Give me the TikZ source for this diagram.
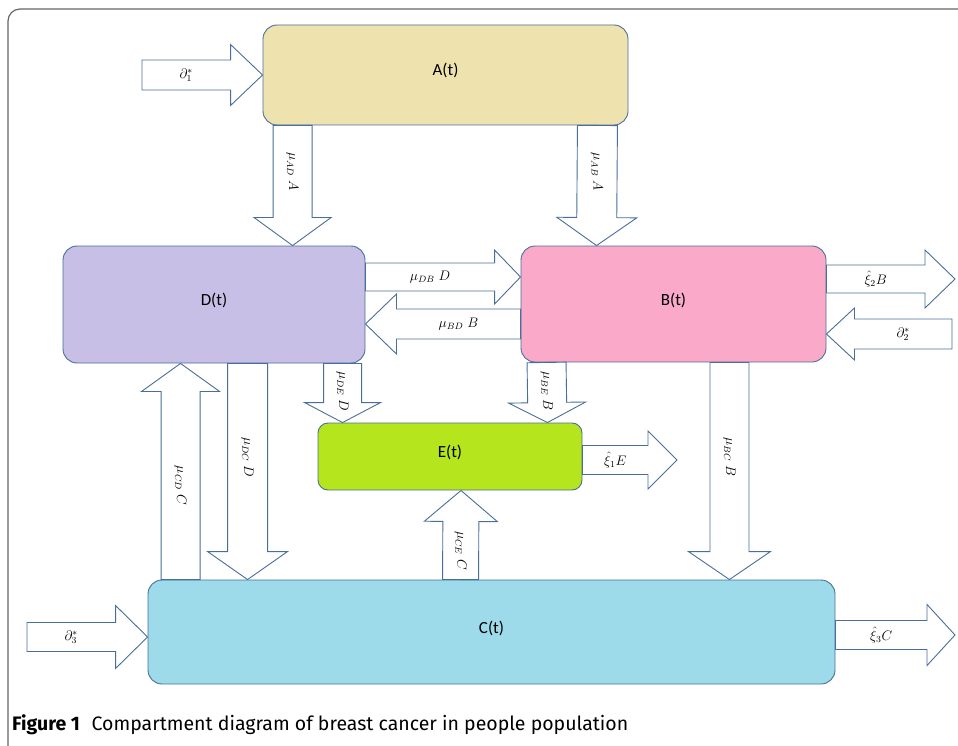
\documentclass[tikz,border=0pt]{standalone}
\usepackage{fontspec}
\setmainfont{Carlito}
\newfontfamily\capfont{Fira Sans}
\usetikzlibrary{calc}
\definecolor{edgeblue}{HTML}{4A6E9B}
\definecolor{framegray}{HTML}{666666}
\definecolor{colA}{HTML}{EEE3AF}
\definecolor{colB}{HTML}{FAAAC8}
\definecolor{colC}{HTML}{9DDAEA}
\definecolor{colD}{HTML}{C7BFE6}
\definecolor{colE}{HTML}{B5E51D}
\tikzset{
  comp/.style={draw=edgeblue, line width=0.9pt, rounded corners=14pt, text height=12pt, text depth=10pt, font=\fontsize{17}{19}\selectfont},
  arr/.style={draw=edgeblue, fill=white, line width=0.9pt, line join=miter},
  lbl/.style={font=\fontsize{12}{14}\selectfont, scale=1.15, inner sep=0pt}
}
% block arrow: start, end, half shaft, half head, head length, label options, label
\newcommand\barr[7]{\path (#1) coordinate (s) (#2) coordinate (t);
\path ($(t)!#5pt!(s)$) coordinate (h);
\draw[arr] ($(s)!#3pt!90:(t)$) -- ($(h)!#3pt!90:(t)$) -- ($(h)!#4pt!90:(t)$) -- (t) -- ($(h)!#4pt!-90:(t)$) -- ($(h)!#3pt!-90:(t)$) -- ($(s)!#3pt!-90:(t)$) -- cycle;
\node[lbl,#6] at ($(s)!0.5!(h)$) {#7};}

\begin{document}
\begin{tikzpicture}[x=1pt, y=-1pt]
\useasboundingbox (0,0) rectangle (958,746);
\draw[framegray, line width=1.2pt, rounded corners=12pt] (975,9) -- (8,9) -- (8,760);

\node[comp, fill=colA, minimum width=365, minimum height=100] (A) at (445.5,75) {A(t)};
\node[comp, fill=colD, minimum width=302, minimum height=117] (D) at (214,304.5) {D(t)};
\node[comp, fill=colB, minimum width=305, minimum height=116] (B) at (673.5,304) {B(t)};
\node[comp, fill=colE, minimum width=264, minimum height=67, rounded corners=10pt] (E) at (450,456.5) {E(t)};
\node[comp, fill=colC, minimum width=687, minimum height=104] (C) at (491.5,632) {C(t)};

\coordinate (in1) at (142,75);
\coordinate (in2) at (952,334);
\coordinate (in3) at (27,637);
\coordinate (out1) at (677,460);
\coordinate (out2) at (955,279);
\coordinate (out3) at (955,635);

\barr{in1}{A.west}{15}{30.5}{32}{}{$\partial_1^*$}
\barr{[xshift=30]A.south west}{[xshift=230]D.north west}{19.5}{38.5}{28}{rotate=-90}{$\mu_{AD}\;A$}
\barr{[xshift=-31]A.south east}{[xshift=76]B.north west}{20}{40}{28}{rotate=-90}{$\mu_{AB}\;A$}
\barr{[yshift=27.5]D.east}{[yshift=27]B.west}{14}{27}{26}{}{$\mu_{DB}\;D$}
\barr{[yshift=-20]B.west}{[yshift=-19.5]D.east}{15}{30}{31}{}{$\mu_{BD}\;B$}
\barr{[yshift=25]B.east}{out2}{14}{29}{30}{}{$\hat{\xi}_2B$}
\barr{in2}{[yshift=-30]B.east}{15}{26}{28}{}{$\partial_2^*$}
\barr{[xshift=33]C.north west}{[xshift=118]D.south west}{19.5}{39}{28}{rotate=-90}{$\mu_{CD}\;C$}
\barr{[xshift=185]D.south west}{[xshift=100]C.north west}{20}{40}{28}{rotate=-90}{$\mu_{DC}\;D$}
\barr{[xshift=280]D.south west}{[xshift=25]E.north west}{19}{38}{20}{rotate=-90, xshift=7}{$\mu_{DE}\;D$}
\barr{[xshift=26]B.south west}{[xshift=-35]E.north east}{19.5}{38.5}{20}{rotate=-90, xshift=7}{$\mu_{BE}\;B$}
\barr{[yshift=-3.5]E.east}{out1}{14.5}{29}{29}{}{$\hat{\xi}_1E$}
\barr{[xshift=313]C.north west}{[xshift=11]E.south}{18}{36.5}{31}{rotate=-90}{$\mu_{CE}\;C$}
\barr{[xshift=-97]B.south east}{[xshift=-106]C.north east}{19.5}{41}{28}{rotate=-90}{$\mu_{BC}\;B$}
\barr{in3}{[yshift=-5]C.west}{14.5}{31.5}{32}{}{$\partial_3^*$}
\barr{[yshift=-3]C.east}{out3}{14.5}{30.5}{28}{}{$\hat{\xi}_3C$}

\node[anchor=base west, inner sep=0pt, font=\capfont\fontsize{19.5}{22}\selectfont] (cap) at (12,730) {\textbf{Figure 1}\hspace{0.6em}Compartment diagram of breast cancer in people population};
\end{tikzpicture}
\end{document}
